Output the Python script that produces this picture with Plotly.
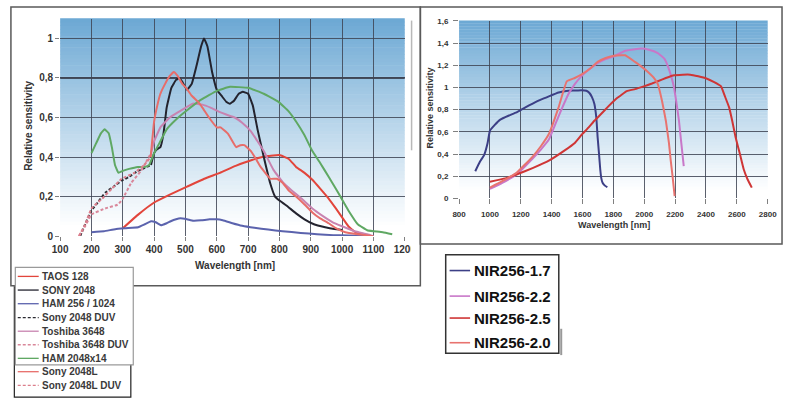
import plotly.graph_objects as go

# ---------------- data: left chart (line sensors) ----------------
taos_x = [300, 350, 400, 450, 505, 560, 610, 660, 712, 760, 800, 830, 853, 880, 905, 930, 957, 980, 1000, 1020, 1040, 1060, 1090]
taos_y = [0.04, 0.11, 0.17, 0.21, 0.25, 0.29, 0.32, 0.355, 0.385, 0.405, 0.41, 0.39, 0.35, 0.32, 0.285, 0.24, 0.19, 0.14, 0.095, 0.05, 0.023, 0.01, 0.0]

sony_x = [390, 400, 410, 420, 430, 440, 455, 470, 480, 490, 505, 520, 535, 550, 559, 570, 585, 600, 615, 630, 642, 655, 670, 683, 700, 715, 730, 750, 770, 786, 800, 822, 853, 880, 910, 946, 975, 1000]
sony_y = [0.36, 0.42, 0.44, 0.45, 0.52, 0.65, 0.75, 0.79, 0.80, 0.78, 0.74, 0.77, 0.86, 0.96, 1.0, 0.96, 0.83, 0.74, 0.71, 0.68, 0.67, 0.685, 0.72, 0.73, 0.72, 0.66, 0.54, 0.40, 0.27, 0.20, 0.18, 0.155, 0.115, 0.085, 0.06, 0.045, 0.036, 0.031]

ham256_x = [200, 240, 276, 310, 349, 370, 390, 405, 422, 440, 453, 470, 484, 505, 525, 550, 577, 600, 619, 650, 681, 720, 764, 810, 868, 920, 972, 1020, 1075, 1100]
ham256_y = [0.02, 0.025, 0.035, 0.04, 0.045, 0.06, 0.075, 0.07, 0.055, 0.065, 0.075, 0.085, 0.09, 0.085, 0.078, 0.08, 0.085, 0.085, 0.08, 0.065, 0.052, 0.042, 0.033, 0.025, 0.016, 0.01, 0.005, 0.003, 0.001, 0.0]

sonyduv_x = [164, 180, 200, 220, 244, 270, 296, 320, 348, 370, 390]
sonyduv_y = [0.0, 0.06, 0.13, 0.17, 0.22, 0.25, 0.28, 0.30, 0.33, 0.345, 0.36]

tosh_x = [390, 400, 420, 450, 480, 523, 554, 580, 606, 630, 657, 680, 709, 730, 750, 781, 812, 840, 870, 905, 940, 970, 1000, 1040, 1080, 1100]
tosh_y = [0.42, 0.48, 0.55, 0.60, 0.63, 0.67, 0.665, 0.65, 0.63, 0.615, 0.60, 0.575, 0.53, 0.48, 0.43, 0.335, 0.27, 0.23, 0.19, 0.14, 0.10, 0.07, 0.05, 0.025, 0.01, 0.0]

toshduv_x = [160, 180, 200, 244, 285, 300, 327, 358, 390]
toshduv_y = [0.0, 0.05, 0.11, 0.14, 0.16, 0.19, 0.27, 0.33, 0.42]

ham2048_x = [200, 215, 230, 242, 255, 265, 275, 286, 300, 320, 348, 370, 384, 400, 420, 440, 470, 500, 550, 600, 642, 700, 750, 796, 830, 853, 880, 905, 930, 957, 980, 998, 1020, 1050, 1080, 1100, 1130, 1160]
ham2048_y = [0.42, 0.47, 0.52, 0.54, 0.52, 0.45, 0.36, 0.32, 0.33, 0.34, 0.35, 0.35, 0.36, 0.42, 0.48, 0.54, 0.59, 0.63, 0.69, 0.735, 0.755, 0.75, 0.72, 0.68, 0.63, 0.58, 0.51, 0.43, 0.37, 0.30, 0.24, 0.19, 0.13, 0.06, 0.03, 0.025, 0.02, 0.01]

sonyL_x = [389, 400, 410, 420, 435, 450, 463, 475, 490, 502, 520, 540, 554, 575, 600, 612, 637, 662, 675, 688, 709, 725, 740, 771, 792, 810, 830, 853, 880, 905, 930, 957, 980, 1010, 1050, 1100]
sonyL_y = [0.40, 0.58, 0.66, 0.72, 0.77, 0.81, 0.83, 0.81, 0.77, 0.75, 0.71, 0.68, 0.65, 0.60, 0.55, 0.55, 0.515, 0.45, 0.46, 0.46, 0.43, 0.39, 0.35, 0.29, 0.29, 0.27, 0.23, 0.20, 0.16, 0.12, 0.09, 0.065, 0.04, 0.02, 0.01, 0.0]

sonyLduv_x = [160, 180, 200, 234, 265, 296, 337, 368, 389]
sonyLduv_y = [0.0, 0.06, 0.14, 0.19, 0.24, 0.29, 0.32, 0.36, 0.40]

left_names = ["TAOS 128", "SONY 2048", "HAM 256 / 1024", "Sony 2048 DUV", "Toshiba 3648",
              "Toshiba 3648 DUV", "HAM 2048x14", "Sony 2048L", "Sony 2048L DUV"]
left_colors = ["#e2453b", "#23232e", "#5b63ad", "#2a2a30", "#c883b0",
               "#d9879a", "#5fa863", "#e76d6a", "#dc7f8c"]
left_dashes = ["solid", "solid", "solid", "3px,2px", "solid", "3px,2px", "solid", "solid", "3px,2px"]
left_xs = [taos_x, sony_x, ham256_x, sonyduv_x, tosh_x, toshduv_x, ham2048_x, sonyL_x, sonyLduv_x]
left_ys = [taos_y, sony_y, ham256_y, sonyduv_y, tosh_y, toshduv_y, ham2048_y, sonyL_y, sonyLduv_y]

left_xticks = [100, 200, 300, 400, 500, 600, 700, 800, 900, 1000, 1100, 1200]
left_yticks = [0, 0.2, 0.4, 0.6, 0.8, 1.0]
left_ytext = ["0", "0,2", "0,4", "0,6", "0,8", "1"]

# ---------------- data: right chart (NIR sensors) ----------------
nir17_x = [905, 935, 962, 985, 1000, 1030, 1067, 1120, 1172, 1230, 1277, 1330, 1382, 1445, 1508, 1550, 1592, 1625, 1645, 1662, 1677, 1690, 1698, 1707, 1715, 1722, 1730, 1745, 1761]
nir17_y = [0.245, 0.33, 0.39, 0.50, 0.61, 0.66, 0.71, 0.745, 0.775, 0.82, 0.855, 0.89, 0.92, 0.955, 0.97, 0.972, 0.975, 0.97, 0.95, 0.91, 0.85, 0.72, 0.55, 0.40, 0.26, 0.18, 0.14, 0.115, 0.10]

nir22_x = [1000, 1080, 1172, 1277, 1330, 1382, 1445, 1509, 1550, 1592, 1650, 1698, 1750, 1803, 1877, 1940, 1983, 2030, 2088, 2130, 2151, 2175, 2193, 2210, 2225, 2240, 2256]
nir22_y = [0.085, 0.14, 0.215, 0.36, 0.44, 0.53, 0.74, 0.94, 1.03, 1.10, 1.17, 1.22, 1.255, 1.28, 1.33, 1.345, 1.35, 1.34, 1.31, 1.26, 1.20, 1.10, 1.0, 0.85, 0.70, 0.50, 0.29]

nir25_x = [1000, 1100, 1172, 1280, 1382, 1487, 1550, 1592, 1640, 1677, 1720, 1761, 1820, 1887, 1940, 1997, 2050, 2088, 2140, 2193, 2250, 2298, 2350, 2403, 2450, 2498, 2520, 2550, 2570, 2592, 2620, 2645, 2670, 2697]
nir25_y = [0.15, 0.18, 0.215, 0.275, 0.34, 0.435, 0.50, 0.57, 0.64, 0.70, 0.76, 0.82, 0.90, 0.967, 0.985, 1.01, 1.035, 1.056, 1.085, 1.11, 1.115, 1.115, 1.10, 1.08, 1.05, 1.01, 0.93, 0.82, 0.70, 0.55, 0.40, 0.26, 0.17, 0.097]

nir20_x = [1000, 1080, 1172, 1277, 1330, 1382, 1445, 1498, 1550, 1592, 1650, 1698, 1750, 1803, 1850, 1877, 1940, 1980, 2024, 2060, 2088, 2115, 2140, 2160, 2171, 2185, 2197]
nir20_y = [0.097, 0.155, 0.23, 0.377, 0.47, 0.58, 0.82, 1.055, 1.085, 1.115, 1.17, 1.23, 1.265, 1.285, 1.29, 1.29, 1.23, 1.19, 1.14, 1.09, 1.03, 0.88, 0.70, 0.50, 0.35, 0.18, 0.02]

right_names = ["NIR256-1.7", "NIR256-2.2", "NIR256-2.5", "NIR256-2.0"]
right_colors = ["#3c3f86", "#c877c8", "#cf3535", "#e8736f"]
right_xs = [nir17_x, nir22_x, nir25_x, nir20_x]
right_ys = [nir17_y, nir22_y, nir25_y, nir20_y]

right_xticks = [800, 1000, 1200, 1400, 1600, 1800, 2000, 2200, 2400, 2600, 2800]
right_yticks = [0, 0.2, 0.4, 0.6, 0.8, 1.0, 1.2, 1.4, 1.6]
right_ytext = ["0", "0,2", "0,4", "0,6", "0,8", "1", "1,2", "1,4", "1,6"]

# ---------------- figure ----------------
W, H = 795, 405
FONT = "Arial, Liberation Sans, sans-serif"


def px(x):
    return x / W


def py(y):
    return 1 - y / H


fig = go.Figure()

for x, y, n, c, d in zip(left_xs, left_ys, left_names, left_colors, left_dashes):
    fig.add_trace(go.Scatter(x=x, y=y, name=n, mode="lines", showlegend=False,
                             line=dict(color=c, width=2, dash=d, shape="spline", smoothing=0.3),
                             xaxis="x", yaxis="y"))
for x, y, n, c in zip(right_xs, right_ys, right_names, right_colors):
    fig.add_trace(go.Scatter(x=x, y=y, name=n, mode="lines", showlegend=False,
                             line=dict(color=c, width=2, shape="spline", smoothing=0.3),
                             xaxis="x2", yaxis="y2"))

shapes = []
# gradient backgrounds
N = 60
top = (108, 168, 212)
for xr, yr in (("x domain", "y domain"), ("x2 domain", "y2 domain")):
    for i in range(N):
        t = (i + 0.5) / N
        f = max(0.0, (t - 0.04) / 0.96) ** 1.05
        col = tuple(round(255 + (tc - 255) * f) for tc in top)
        shapes.append(dict(type="rect", xref=xr, yref=yr, x0=0, x1=1, y0=i / N, y1=(i + 1) / N + 0.002,
                           fillcolor="rgb(%d,%d,%d)" % col, line=dict(width=0), layer="below"))

grid_col = "rgba(62,68,84,0.85)"
# emphasised 0,8 gridline on left chart
shapes.append(dict(type="line", xref="x domain", yref="y", x0=0, x1=1, y0=0.8, y1=0.8,
                   line=dict(color="rgba(60,64,78,0.9)", width=2), layer="below"))

# white strip clipping the left frame, and light gray line
shapes.append(dict(type="rect", xref="paper", yref="paper", x0=px(413), x1=px(422.5), y0=py(288), y1=py(4),
                   fillcolor="white", line=dict(width=0), layer="above"))
shapes.append(dict(type="line", xref="paper", yref="paper", x0=px(414), x1=px(414), y0=py(150), y1=py(17),
                   line=dict(color="#b8b8b8", width=1.5), layer="above"))
# frames
shapes.append(dict(type="rect", xref="paper", yref="paper", x0=px(3), x1=px(423), y0=py(289), y1=py(3),
                   line=dict(color="#5a5a5a", width=1.5), layer="above"))
shapes.append(dict(type="rect", xref="paper", yref="paper", x0=px(423), x1=px(794), y0=py(246), y1=py(3),
                   line=dict(color="#5a5a5a", width=1.5), layer="above"))

# left legend boxes
shapes.append(dict(type="rect", xref="paper", yref="paper", x0=px(6.5), x1=px(126), y0=py(403), y1=py(290),
                   fillcolor="white", line=dict(color="#222", width=1.2), layer="above"))
shapes.append(dict(type="rect", xref="paper", yref="paper", x0=px(7.5), x1=px(128.5), y0=py(370), y1=py(270),
                   fillcolor="white", line=dict(color="#9a9a9a", width=1.2), layer="above"))
# right legend box
shapes.append(dict(type="line", xref="paper", yref="paper", x0=px(567.5), x1=px(567.5), y0=py(360), y1=py(333),
                   line=dict(color="#999", width=2), layer="above"))
shapes.append(dict(type="rect", xref="paper", yref="paper", x0=px(449), x1=px(565), y0=py(358), y1=py(257),
                   fillcolor="white", line=dict(color="#333", width=1.5), layer="above"))

annotations = []
left_item_y = [279.3, 293.3, 307.3, 321.5, 335.5, 349.4, 363.3, 377, 391]
for n, c, d, yy in zip(left_names, left_colors, left_dashes, left_item_y):
    shapes.append(dict(type="line", xref="paper", yref="paper", x0=px(10), x1=px(31.5), y0=py(yy), y1=py(yy),
                       line=dict(color=c, width=1.3, dash=d), layer="above"))
    annotations.append(dict(text=n, xref="paper", yref="paper", x=px(32.5), y=py(yy), xanchor="left",
                            yanchor="middle", showarrow=False,
                            font=dict(family=FONT, size=10, color="#3a3a3a", weight="bold")))

right_item_y = [273.3, 299.5, 322, 347.3]
for n, c, yy in zip(right_names, right_colors, right_item_y):
    shapes.append(dict(type="line", xref="paper", yref="paper", x0=px(453), x1=px(474), y0=py(yy), y1=py(yy),
                       line=dict(color=c, width=1.6), layer="above"))
    annotations.append(dict(text=n, xref="paper", yref="paper", x=px(476), y=py(yy), xanchor="left",
                            yanchor="middle", showarrow=False,
                            font=dict(family=FONT, size=15, color="#111", weight="bold")))

# axis titles
title_font_l = dict(family=FONT, size=10, color="#333", weight="bold")
title_font_r = dict(family=FONT, size=9, color="#333", weight="bold")
annotations += [
    dict(text="Relative sensitivity", xref="paper", yref="paper", x=px(21.5), y=py(125), textangle=-90,
         showarrow=False, xanchor="center", yanchor="middle", font=title_font_l),
    dict(text="Wavelength [nm]", xref="paper", yref="paper", x=px(233), y=py(268.5),
         showarrow=False, xanchor="center", yanchor="middle", font=title_font_l),
    dict(text="Relative sensitivity", xref="paper", yref="paper", x=px(433), y=py(107), textangle=-90,
         showarrow=False, xanchor="center", yanchor="middle", font=title_font_r),
    dict(text="Wavelength [nm]", xref="paper", yref="paper", x=px(622), y=py(227),
         showarrow=False, xanchor="center", yanchor="middle", font=title_font_r),
]

common = dict(showgrid=True, gridcolor=grid_col, gridwidth=1, zeroline=False, ticks="outside",
              tickcolor="#808080", showline=False, fixedrange=True)
tf_l = dict(family=FONT, size=10, color="#333", weight="bold")
tf_r = dict(family=FONT, size=8, color="#333", weight="bold")

fig.update_layout(
    width=W, height=H, margin=dict(l=0, r=0, t=0, b=0), autosize=False,
    paper_bgcolor="white", plot_bgcolor="white", showlegend=False,
    xaxis=dict(domain=[px(53.5), px(407)], anchor="y", range=[100, 1200], tickvals=left_xticks,
               ticktext=[str(v) for v in left_xticks], tickfont=tf_l, ticklen=4, **common),
    yaxis=dict(domain=[py(238), py(15)], anchor="x", range=[0, 1.1], tickvals=left_yticks,
               ticktext=left_ytext, tickfont=tf_l, ticklen=4, **common),
    xaxis2=dict(domain=[px(462.7), px(779.3)], anchor="y2", range=[800, 2800], tickvals=right_xticks,
                ticktext=[str(v) for v in right_xticks], tickfont=tf_r, ticklen=5, ticklabelstandoff=3, **common),
    yaxis2=dict(domain=[py(199.3), py(17.3)], anchor="x2", range=[0, 1.6], tickvals=right_yticks,
                ticktext=right_ytext, tickfont=tf_r, ticklen=5, ticklabelstandoff=3, **common),
    shapes=shapes, annotations=annotations,
)

fig.write_html(
    "out.html",
    config={"displayModeBar": False},
    post_script="document.body.style.margin='0';document.body.style.overflow='hidden';",
)
